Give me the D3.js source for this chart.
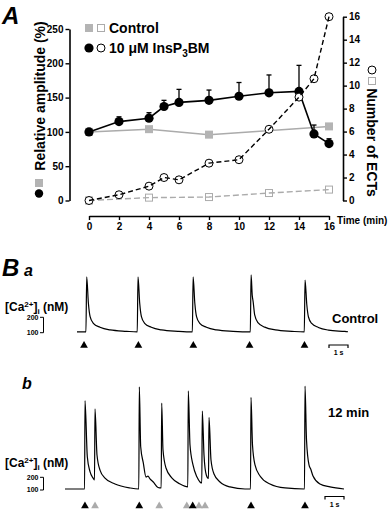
<!DOCTYPE html>
<html><head><meta charset="utf-8">
<script src="https://cdn.jsdelivr.net/npm/d3@7"></script>
<style>
body{margin:0;background:#fff}
svg{display:block;font-family:"Liberation Sans",Arial,Helvetica,sans-serif;font-weight:bold}
text{fill:#000}
</style>
</head><body>
<svg id="c" width="390" height="509"></svg>
<script>
// ---------- Panel A data ----------
const timeMin   = [0, 2, 4, 5, 6, 8, 10, 12, 14, 15, 16];
const insAmp    = [100, 115, 120, 137, 143, 146, 152, 157, 159, 97, 83];
const insAmpErr = [0, 7, 8, 9, 19, 15, 20, 26, 38, 13, 7];
const insECT    = [0, 0.5, 1.25, 2.0, 1.8, 3.25, 3.55, 6.2, 9.0, 10.6, 16.0];
const ctrlTime  = [0, 4, 8, 16];
const ctrlAmp   = [100, 104, 96, 108];
const ctrlECTTime = [0, 4, 8, 12, 16];
const ctrlECT   = [0, 0.25, 0.3, 0.65, 0.95];
const xTicks    = [0, 2, 4, 6, 8, 10, 12, 14, 16];
const ampTicks  = [0, 50, 100, 150, 200, 250];
const ectTicks  = [0, 2, 4, 6, 8, 10, 12, 14, 16];

// ---------- Panel B data: [time (s), [Ca2+]i (nM)] ----------
const traceControl = [
 [0,105],[0.47,105],[0.51,462],[0.60,291],[0.69,204],[0.86,161],[1.21,135],[1.74,118],[2.61,109],[3.17,105],
 [3.21,462],[3.30,291],[3.39,204],[3.56,161],[3.91,135],[4.44,118],[5.31,109],[6.07,105],
 [6.11,462],[6.20,291],[6.29,204],[6.46,161],[6.81,135],[7.34,118],[8.21,109],[9.12,105],
 [9.16,475],[9.22,345],[9.27,300],[9.35,215],[9.52,165],[9.88,136],[10.44,118],[11.31,109],[11.96,105],
 [12.0,442],[12.09,285],[12.18,202],[12.35,160],[12.7,134],[13.23,117],[14.1,108],[14.26,106]
];
const trace12min = [
 [0,108],[1.03,108],[1.053,803],[1.174,362],[1.316,244],[1.489,192],[1.553,179],
 [1.579,738],[1.684,376],[1.842,257],[2.105,194],[2.632,147],[3.421,116],[3.884,108],
 [3.911,913],[3.984,441],[4.121,313],[4.263,202],[4.368,210],[4.474,187],[4.647,163],[4.895,120],[5.063,116],
 [5.089,785],[5.158,415],[5.316,273],[5.632,194],[6.053,147],[6.463,124],
 [6.489,880],[6.579,454],[6.737,297],[6.947,202],[7.105,163],[7.2,155],
 [7.226,722],[7.316,376],[7.437,218],[7.553,191],
 [7.579,672],[7.684,336],[7.842,226],[8.158,163],[8.684,124],[9.474,108],[9.763,108],
 [9.789,830],[9.868,454],[10.0,297],[10.263,210],[10.789,147],[11.579,116],[12.605,108],
 [12.632,919],[12.711,494],[12.842,297],[12.932,265],[13.053,210],[13.421,147],[13.947,124],[14.684,108]
];
const stimControl   = [0.37, 3.23, 6.12, 9.08, 11.97];
const stim12Black   = [1.05, 3.91, 6.72, 9.79, 12.63];
const stim12Grey    = [1.58, 4.96, 6.41, 7.05, 7.37];
const calibTicks    = [100, 200];

const BLACK = "#000", GREY = "#ababab", GREYF = "#b4b4b4";
const svg = d3.select("#c");

// ---------- Panel A ----------
const x  = d3.scaleLinear().domain([0,16]).range([89,329]);
const yL = d3.scaleLinear().domain([0,250]).range([200.5,29]);
const yR = d3.scaleLinear().domain([0,16]).range([200.5,16.7]);

function styleAxis(g){
  g.attr("font-family",null).attr("font-size",null);
  g.selectAll("path.domain").attr("stroke",BLACK).attr("stroke-width",1.6);
  g.selectAll(".tick line").attr("stroke",BLACK).attr("stroke-width",1.4);
  g.selectAll(".tick text").attr("fill",BLACK).style("font-size","10px").style("font-weight","bold");
}
svg.append("g").attr("transform","translate(69.5,0)")
  .call(d3.axisLeft(yL).tickValues(ampTicks).tickSize(4).tickSizeOuter(0).tickPadding(2)).call(styleAxis);
svg.append("g").attr("transform","translate(343,0)")
  .call(d3.axisRight(yR).tickValues(ectTicks).tickSize(4).tickSizeOuter(0).tickPadding(2)).call(styleAxis);
svg.append("g").attr("transform","translate(0,216)")
  .call(d3.axisBottom(x).tickValues(xTicks).tickSize(4).tickSizeOuter(0).tickPadding(3)).call(styleAxis);

// Control amplitude (grey solid, filled squares)
const ctrlPts = ctrlTime.map((t,i)=>[t,ctrlAmp[i]]);
svg.append("path").datum(ctrlPts)
  .attr("d", d3.line().x(d=>x(d[0])).y(d=>yL(d[1])))
  .attr("fill","none").attr("stroke",GREY).attr("stroke-width",1.5);
svg.selectAll(".csq").data(ctrlPts).join("rect")
  .attr("x",d=>x(d[0])-4).attr("y",d=>yL(d[1])-4).attr("width",8).attr("height",8).attr("fill",GREYF);

// InsP3BM amplitude (black solid, filled circles, error bars)
const insPts = timeMin.map((t,i)=>[t,insAmp[i],insAmpErr[i]]);
svg.append("path").datum(insPts)
  .attr("d", d3.line().x(d=>x(d[0])).y(d=>yL(d[1])))
  .attr("fill","none").attr("stroke",BLACK).attr("stroke-width",1.6);
const eb = svg.append("g").attr("stroke",BLACK).attr("stroke-width",1.3);
insPts.filter(d=>d[2]>0).forEach(d=>{
  eb.append("line").attr("x1",x(d[0])).attr("x2",x(d[0])).attr("y1",yL(d[1])).attr("y2",yL(d[1]+d[2]));
  eb.append("line").attr("x1",x(d[0])-2.5).attr("x2",x(d[0])+2.5).attr("y1",yL(d[1]+d[2])).attr("y2",yL(d[1]+d[2]));
});
svg.selectAll(".icirc").data(insPts).join("circle")
  .attr("cx",d=>x(d[0])).attr("cy",d=>yL(d[1])).attr("r",4.6).attr("fill",BLACK);

// Control ECTs (grey dashed, open squares)
const cEctPts = ctrlECTTime.map((t,i)=>[t,ctrlECT[i]]);
svg.selectAll(".osq").data(cEctPts).join("rect")
  .attr("x",d=>x(d[0])-3.5).attr("y",d=>yR(d[1])-3.5).attr("width",7).attr("height",7)
  .attr("fill","#fff").attr("stroke",GREY).attr("stroke-width",1);
svg.append("path").datum(cEctPts)
  .attr("d", d3.line().x(d=>x(d[0])).y(d=>yR(d[1])))
  .attr("fill","none").attr("stroke",GREY).attr("stroke-width",1.4).attr("stroke-dasharray","6,3");

// InsP3BM ECTs (black dashed, open circles)
const iEctPts = timeMin.map((t,i)=>[t,insECT[i]]);
svg.selectAll(".ocirc").data(iEctPts).join("circle")
  .attr("cx",d=>x(d[0])).attr("cy",d=>yR(d[1])).attr("r",4)
  .attr("fill","#fff").attr("stroke",BLACK).attr("stroke-width",1);
svg.append("path").datum(iEctPts)
  .attr("d", d3.line().x(d=>x(d[0])).y(d=>yR(d[1])))
  .attr("fill","none").attr("stroke",BLACK).attr("stroke-width",1.4).attr("stroke-dasharray","5,3");

// Legend
svg.append("rect").attr("x",85).attr("y",24).attr("width",8).attr("height",8).attr("fill",GREYF);
svg.append("rect").attr("x",97.5).attr("y",24.5).attr("width",7).attr("height",7).attr("fill","#fff").attr("stroke",GREY);
svg.append("text").attr("x",109).attr("y",33).style("font-size","14px").text("Control");
svg.append("circle").attr("cx",89).attr("cy",48).attr("r",4.6).attr("fill",BLACK);
svg.append("circle").attr("cx",101).attr("cy",48).attr("r",4).attr("fill","#fff").attr("stroke",BLACK);
const lt = svg.append("text").attr("x",109).attr("y",53).style("font-size","14px");
lt.append("tspan").text("10 μM InsP");
lt.append("tspan").attr("dy",4).style("font-size","10px").text("3");
lt.append("tspan").attr("dy",-4).text("BM");

// Axis titles
svg.append("text").attr("transform","translate(45,96) rotate(-90)").attr("text-anchor","middle")
  .style("font-size","14px").text("Relative amplitude (%)");
svg.append("rect").attr("x",35).attr("y",179).attr("width",8).attr("height",8).attr("fill",GREYF);
svg.append("circle").attr("cx",39).attr("cy",193.5).attr("r",4.2).attr("fill",BLACK);

svg.append("text").attr("transform","translate(366.5,142.5) rotate(90)").attr("text-anchor","middle")
  .style("font-size","14px").text("Number of ECTs");
svg.append("circle").attr("cx",372).attr("cy",70).attr("r",4).attr("fill","#fff").attr("stroke",BLACK);
svg.append("rect").attr("x",368.5).attr("y",77.5).attr("width",7).attr("height",7).attr("fill","#fff").attr("stroke",GREY);

svg.append("text").attr("x",337).attr("y",223.5).style("font-size","10px").text("Time (min)");
svg.append("text").attr("x",2).attr("y",24).style("font-size","24px").style("font-style","italic").text("A");

// ---------- Panel B ----------
svg.append("text").attr("x",2).attr("y",276).style("font-size","24px").style("font-style","italic").text("B");
svg.append("text").attr("x",24).attr("y",276).style("font-size","16px").style("font-style","italic").text("a");
svg.append("text").attr("x",22).attr("y",389).style("font-size","16px").style("font-style","italic").text("b");

function drawTrace(cfg){
  const xs = d3.scaleLinear().domain([0, d3.max(cfg.data,d=>d[0])]).range([cfg.x0, cfg.x1]);
  const ys = d3.scaleLinear().domain([100,200]).range(cfg.yCal);
  svg.append("path").datum(cfg.data)
    .attr("d", d3.line().x(d=>xs(d[0])).y(d=>ys(d[1])).curve(d3.curveMonotoneX))
    .attr("fill","none").attr("stroke",BLACK).attr("stroke-width",1.2).attr("stroke-linejoin","round");
  // stimulus / ECT markers
  const tri = d3.symbol().type(d3.symbolTriangle).size(26);
  cfg.stims.forEach(s=>{
    svg.selectAll(null).data(s.t).join("path")
      .attr("d",tri).attr("transform",d=>`translate(${xs(d)},${cfg.triY})`).attr("fill",s.color);
  });
  // label
  const lab = svg.append("text").attr("x",5).attr("y",cfg.labY).style("font-size","12px");
  lab.append("tspan").text("[Ca");
  lab.append("tspan").attr("dy",-4).style("font-size","8px").text("2+");
  lab.append("tspan").attr("dy",4).text("]");
  lab.append("tspan").attr("dy",3).style("font-size","8px").text("i");
  lab.append("tspan").attr("dy",-3).text(" (nM)");
  // calibration bracket
  const cb = svg.append("g").attr("stroke",BLACK).attr("stroke-width",1);
  cb.append("line").attr("x1",43.5).attr("x2",43.5).attr("y1",ys(100)).attr("y2",ys(200));
  calibTicks.forEach(v=>{
    cb.append("line").attr("x1",40).attr("x2",43.5).attr("y1",ys(v)).attr("y2",ys(v));
    svg.append("text").attr("x",38.5).attr("y",ys(v)).attr("dy","0.35em").attr("text-anchor","end")
      .attr("fill",BLACK).style("font-size","7px").text(v);
  });
  // time scale bar (1 s)
  const sb = svg.append("g").attr("stroke",BLACK).attr("stroke-width",1.2);
  const bx0 = cfg.bar[0], bx1 = bx0 + (xs(1)-xs(0)), by = cfg.bar[1];
  sb.append("path").attr("fill","none")
    .attr("d",`M${bx0},${by+3}V${by}H${bx1}V${by+3}`);
  svg.append("text").attr("x",(bx0+bx1)/2).attr("y",by+10).attr("text-anchor","middle")
    .style("font-size","7px").text("1 s");
  svg.append("text").attr("x",cfg.title[0]).attr("y",cfg.title[1]).style("font-size","13px").text(cfg.titleText);
}

drawTrace({data:traceControl, x0:77, x1:348, yCal:[332.7,317.3], triY:345.5,
  stims:[{t:stimControl,color:BLACK}], labY:311, bar:[329,345], title:[332,323], titleText:"Control"});
drawTrace({data:trace12min, x0:65, x1:344, yCal:[490,477.3], triY:506,
  stims:[{t:stim12Grey,color:GREY},{t:stim12Black,color:BLACK}], labY:467, bar:[325,496.5], title:[328,417], titleText:"12 min"});
</script>
</body></html>
